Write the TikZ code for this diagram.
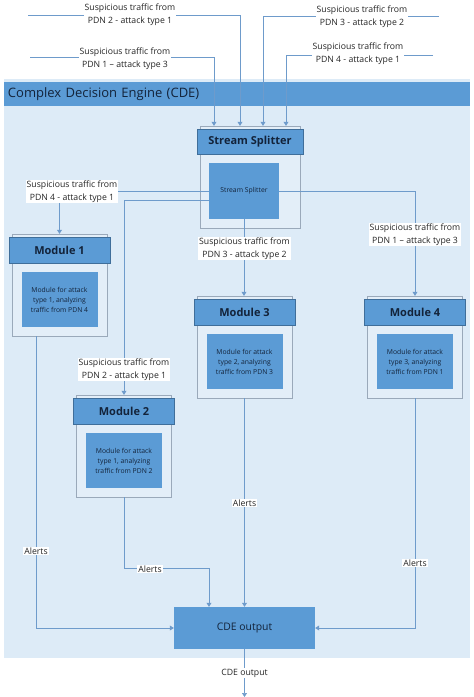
\documentclass[tikz,border=0pt]{standalone}
\usepackage{fontspec}
\setmainfont{Open Sans}
\usetikzlibrary{arrows.meta}
\definecolor{panelblue}{HTML}{DDEBF7}
\definecolor{contfill}{HTML}{E3EEF8}
\definecolor{contline}{HTML}{9AA9BA}
\definecolor{boxblue}{HTML}{5B9BD5}
\definecolor{hdrline}{HTML}{3F6E9A}
\definecolor{navy}{HTML}{13233A}
\definecolor{linecol}{HTML}{6E9BCB}

\begin{document}
\begin{tikzpicture}[
  x=1pt, y=-1pt,
  panel/.style={rectangle,fill=panelblue,minimum width=466pt,minimum height=579pt,inner sep=0pt},
  bar/.style={rectangle,fill=boxblue,minimum height=24pt,text width=458pt,inner xsep=4pt,align=left,text=navy,font=\fontsize{13}{15}\selectfont},
  cont/.style={rectangle,draw=contline,fill=contfill,minimum width=95pt,minimum height=102pt,inner sep=0pt},
  hdr/.style={rectangle,draw=hdrline,fill=boxblue,minimum width=101pt,minimum height=26pt,inner sep=0pt,text=navy,font=\bfseries\fontsize{11}{13}\selectfont},
  inner/.style={rectangle,fill=boxblue,minimum width=76pt,minimum height=55pt,inner sep=0pt,align=center,text=navy,font=\fontsize{6.8}{10}\selectfont},
  outbox/.style={rectangle,fill=boxblue,minimum width=141pt,minimum height=42pt,text=navy,font=\fontsize{10.4}{12}\selectfont},
  lbl/.style={fill=white,inner sep=1pt,align=center,text=black!85,font=\fontsize{8.7}{13}\selectfont},
  arrow/.style={-{Triangle[width=5pt,length=4pt]},draw=linecol,line width=0.7pt}
]
\useasboundingbox (0,0) rectangle (474,697);

% engine panel
\node[panel] (cde) at (237,368.5) {};
\node[bar] (cdeh) at (237,94) {Complex Decision Engine (CDE)};

% stream splitter
\node[cont,minimum width=100pt] (ssc) at (250,177) {};
\node[hdr,minimum width=106pt,minimum height=25pt] (ssh) at (250,141.5) {Stream Splitter};
\node[inner,minimum width=70pt,minimum height=56pt] (ssi) at (244,191) {Stream Splitter};

% modules
\foreach \n/\x/\y/\k/\p in {1/59.5/234/1/4, 2/124/395/1/2, 3/244.5/296/2/3, 4/415/296/3/1}{
  \node[cont] (m\n-c) at (\x,\y+51) {};
  \node[hdr] (m\n-h) at (\x,\y+16) {Module \n};
  \node[inner] (m\n-i) at (\x,\y+65.5) {Module for attack\\type \k, analyzing\\traffic from PDN \p};
}

\node[outbox] (cdeo) at (244.5,628) {CDE output};

% incoming traffic
\coordinate (in1) at (30,57);
\coordinate (in2) at (28,15);
\coordinate (in3) at (439,16);
\coordinate (in4) at (433,55);
\draw[arrow] (in1) -| ([xshift=-36pt]ssc.north);
\draw[arrow] (in2) -| ([xshift=-10pt]ssc.north);
\draw[arrow] (in3) -| ([xshift=13pt]ssc.north);
\draw[arrow] (in4) -| ([xshift=36pt]ssc.north);

% splitter to modules
\draw[arrow] (ssi.west) -| (m1-c.north);
\draw[arrow] ([yshift=-9pt]ssi.west) -| (m2-c.north);
\draw[arrow] (ssi.south) -- (ssi.south |- m3-c.north);
\draw[arrow] (ssi.east) -| (m4-c.north);

% alerts
\draw[arrow] ([xshift=-23.5pt]m1-c.south) |- (cdeo.west);
\draw[arrow] (m2-c.south) -- ++(0,71) -| ([xshift=-35.5pt]cdeo.north);
\draw[arrow] (m3-c.south) -- (m3-c.south |- cdeo.north);
\draw[arrow] (m4-c.south) |- (cdeo.east);
\coordinate (out) at (244.5,697);
\draw[arrow] (cdeo.south) -- (out);

% labels
\node[lbl] (l1) at (125,58.5) {Suspicious traffic from\\PDN 1 – attack type 3};
\node[lbl] (l2) at (130,15) {Suspicious traffic from\\PDN 2 - attack type 1};
\node[lbl] (l3) at (362,16.5) {Suspicious traffic from\\PDN 3 - attack type 2};
\node[lbl] (l4) at (358,53.5) {Suspicious traffic from\\PDN 4 - attack type 1};
\node[lbl] (la) at (72,191.5) {Suspicious traffic from\\PDN 4 - attack type 1};
\node[lbl] (lb) at (124,369.5) {Suspicious traffic from\\PDN 2 - attack type 1};
\node[lbl] (lc) at (244.5,248.5) {Suspicious traffic from\\PDN 3 - attack type 2};
\node[lbl] (ld) at (415,234.5) {Suspicious traffic from\\PDN 1 – attack type 3};
\node[lbl] (a1) at (36,551) {Alerts};
\node[lbl] (a2) at (150,569) {Alerts};
\node[lbl] (a3) at (244.5,503) {Alerts};
\node[lbl] (a4) at (415,563) {Alerts};
\node[lbl] (a5) at (244.5,673) {CDE output};
\end{tikzpicture}
\end{document}
